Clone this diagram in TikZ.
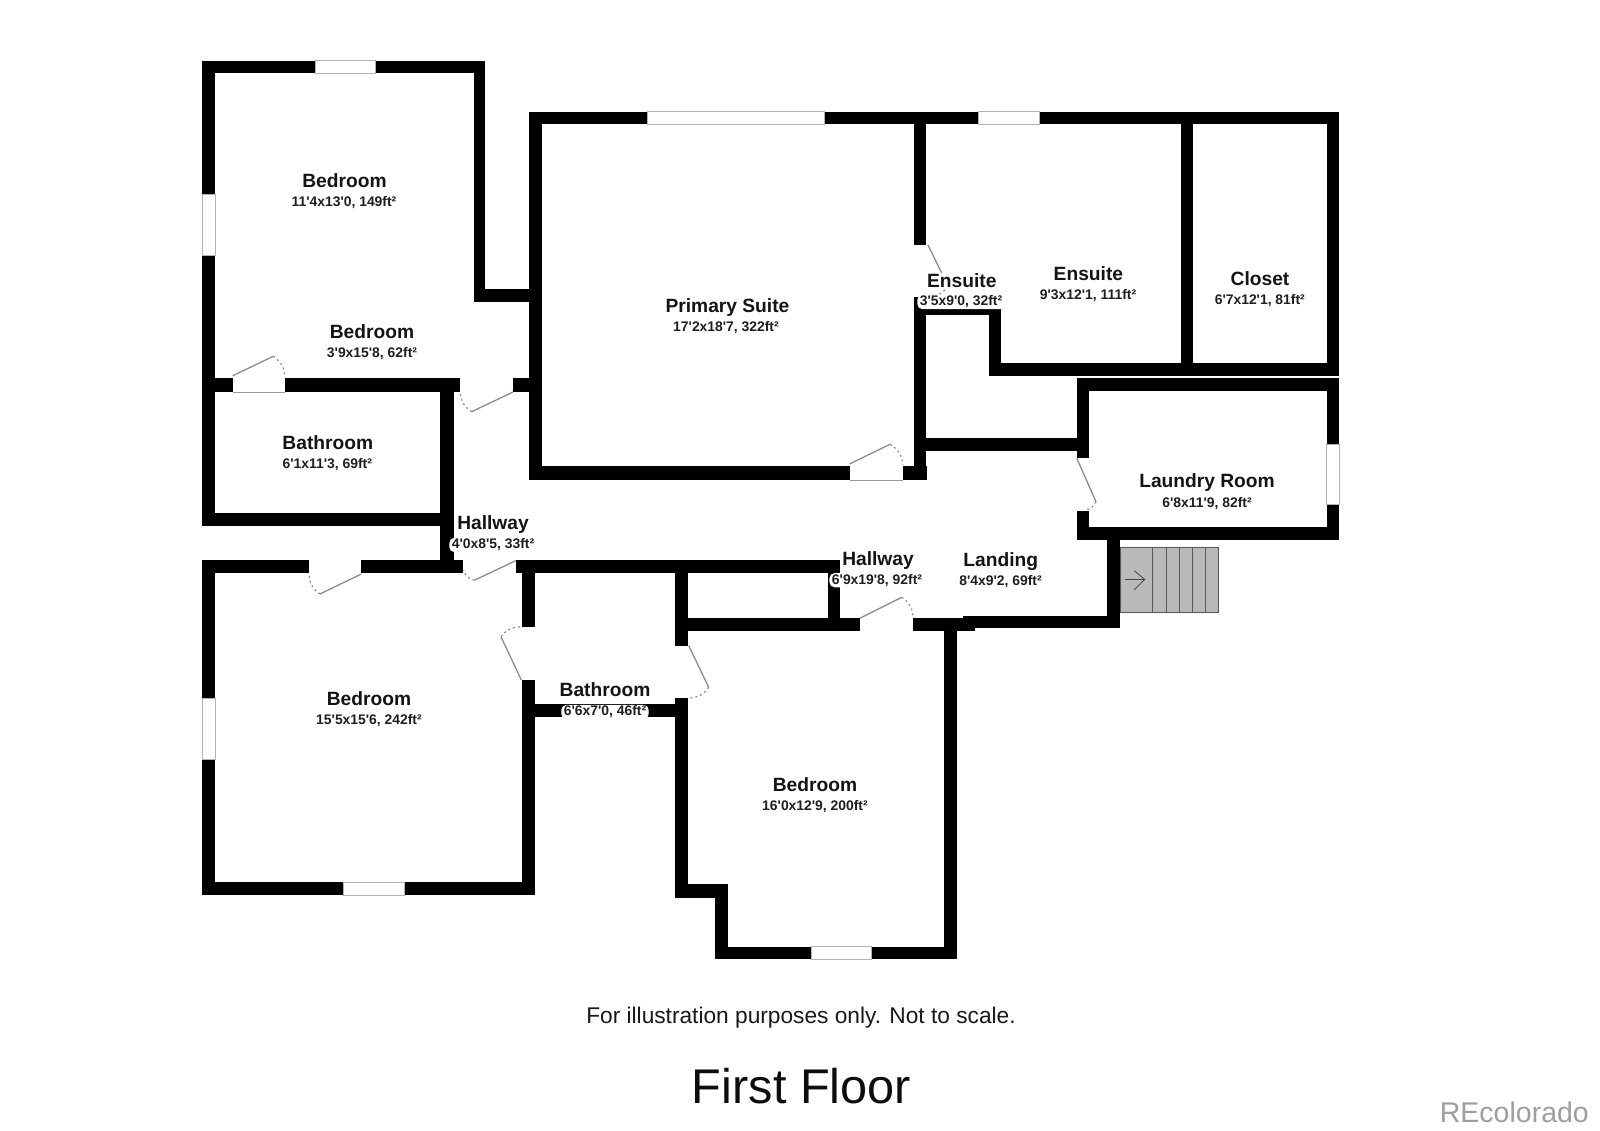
\documentclass[tikz,border=0pt]{standalone}
\usepackage{fontspec}
\setmainfont{Liberation Sans}[Ligatures=TeXOff]
\tikzset{
  wallfill/.style={fill=black},
  windowbox/.style={fill=white,draw=black!30,line width=0.8pt},
  sill/.style={draw=black!40,line width=0.8pt},
  doorleaf/.style={draw=black!45,line width=1.3pt},
  doorarc/.style={draw=black!45,line width=1.2pt,dash pattern=on 2pt off 3pt},
  roomname/.style={font=\fontsize{19.2}{22}\selectfont\bfseries,fill=white,inner xsep=1pt,inner ysep=0pt,text=black!92,anchor=center},
  roominfo/.style={font=\fontsize{13.9}{16}\selectfont\bfseries,fill=white,rounded corners=5pt,inner xsep=2.5pt,inner ysep=1pt,text=black!88,anchor=center},
  stairbox/.style={fill=black!27,draw=black!65,line width=0.8pt},
}
\newcommand{\wl}[4]{\fill[wallfill] (#1,#2) rectangle (#3,#4);}
\newcommand{\wn}[4]{\draw[windowbox] (#1,#2) rectangle (#3,#4);}
\begin{document}
\begin{tikzpicture}[x=1pt,y=-1pt]
\useasboundingbox (0,0) rectangle (1600,1131);
\fill[white] (0,0) rectangle (1600,1131);
% upper-left bedroom and bathroom
\wl{202}{60.7}{485.3}{73.3}
\wl{202}{60.7}{215.3}{526}
\wl{473.7}{60.7}{485.3}{302.3}
\wl{473.7}{289.3}{529.3}{302.3}
\wl{202}{377.7}{232.7}{392}
\wl{284.7}{377.7}{460.3}{392}
\wl{513}{377.7}{529.3}{392}
\wl{440.3}{377.7}{453.7}{573.3}
\wl{202}{513.3}{453.7}{526}
% primary suite
\wl{529.3}{111.7}{1339.3}{124.5}
\wl{529.3}{111.7}{541.7}{480}
\wl{529.3}{466}{850}{480}
\wl{902.5}{466}{927}{480}
\wl{914}{111.7}{926.4}{245}
\wl{914}{297}{926.4}{480}
% ensuite, closet
\wl{914}{302}{1001}{315}
\wl{988.6}{302}{1001}{376.3}
\wl{988.6}{363.3}{1339.3}{376.3}
\wl{1180.7}{111.7}{1193.2}{376}
\wl{1326.8}{111.7}{1339.3}{376.3}
% laundry
\wl{1076.8}{377.7}{1339.3}{390.7}
\wl{1076.8}{377.7}{1089}{458.3}
\wl{926}{437.7}{1077}{450.7}
\wl{1326.8}{377.7}{1339.3}{540}
\wl{1076.8}{510.7}{1089.3}{540}
\wl{1076.8}{526.7}{1339.3}{540}
% landing and stair wall
\wl{1107.3}{540}{1120}{628.3}
\wl{962.7}{615.7}{1120}{628.3}
\wl{913}{618.3}{975.3}{631}
\wl{687}{618.3}{860.3}{631}
\wl{828.3}{560}{840}{620}
% hallway wall
\wl{516}{560}{840}{573.3}
\wl{522}{560}{535}{626.7}
\wl{675}{560}{687.7}{645.7}
% lower-left bedroom
\wl{202}{560}{309}{573.3}
\wl{361.3}{560}{463.3}{573.3}
\wl{202}{560}{215.3}{895.3}
\wl{522.3}{680}{535.3}{895.3}
\wl{202}{882.3}{535.3}{895.3}
% lower bathroom
\wl{535}{704}{675}{717.3}
% lower-right bedroom
\wl{675}{698.3}{687.7}{898.3}
\wl{675}{884.3}{728}{898.3}
\wl{714.7}{884.3}{728}{959.3}
\wl{714.7}{946.7}{957.3}{959.3}
\wl{944.3}{618.3}{957.3}{959.3}
% windows
\wn{315.7}{60.7}{375.7}{73.3}
\wn{202}{194.3}{215.3}{255}
\wn{647}{111.7}{824.6}{124.5}
\wn{978.6}{111.7}{1039.6}{124.5}
\wn{1326.8}{444.3}{1339.3}{504}
\wn{202}{698.7}{215.3}{759.3}
\wn{343.7}{882.3}{404.3}{895.3}
\wn{811.7}{946.7}{871.7}{959.3}
% door sills
\draw[sill] (232.7,392) -- (284.7,392);
\draw[sill] (850,480) -- (902.5,480);
% doors
\draw[doorleaf] (232.7,375.7) -- (273.3,356.3);
\draw[doorarc] (273.3,356.3) to[bend left=28] (284.7,377);
\draw[doorleaf] (513,392) -- (471.7,411.7);
\draw[doorarc] (471.7,411.7) to[bend left=28] (460.3,392);
\draw[doorleaf] (849.5,464) -- (890,444.3);
\draw[doorarc] (890,444.3) to[bend left=28] (902.9,465);
\draw[doorleaf] (928,245) -- (948,286);
\draw[doorarc] (948,286) to[bend left=28] (927,297);
\draw[doorleaf] (1076.8,458.3) -- (1096,501.7);
\draw[doorarc] (1096,501.7) to[bend left=28] (1085,510);
\draw[doorleaf] (361.3,574) -- (320,594);
\draw[doorarc] (320,594) to[bend left=28] (309,573);
\draw[doorleaf] (515.7,560.7) -- (474.3,580.3);
\draw[doorarc] (474.3,580.3) to[bend left=28] (463.3,570);
\draw[doorleaf] (521.3,680) -- (501,636.7);
\draw[doorarc] (501,636.7) to[bend left=28] (522,627);
\draw[doorleaf] (688.7,645.7) -- (708.7,687.3);
\draw[doorarc] (708.7,687.3) to[bend left=28] (688,698);
\draw[doorleaf] (860.3,618) -- (901.7,597.3);
\draw[doorarc] (901.7,597.3) to[bend left=28] (913,618);
% stairs
\draw[stairbox] (1120,547) rectangle (1218.3,612.7);
\foreach \sx in {1152.7,1166,1179,1192.3,1205}
  \draw[draw=black!65,line width=0.8pt] (\sx,547) -- (\sx,612.7);
\draw[draw=black!75,line width=0.8pt] (1125,579.5) -- (1144.7,579.5);
\draw[draw=black!75,line width=0.8pt] (1134.3,570.7) -- (1144.7,579.5) -- (1134.3,589.7);
% labels
\node[roomname] (n1) at (344.5,180.7) {Bedroom};
\node[roominfo] (i1) at (344,203) {11'4x13'0, 149ft²};
\node[roomname] (n2) at (372,332) {Bedroom};
\node[roominfo] (i2) at (372,354) {3'9x15'8, 62ft²};
\node[roomname] (n3) at (327.8,442.7) {Bathroom};
\node[roominfo] (i3) at (327.3,465) {6'1x11'3, 69ft²};
\node[roomname] (n4) at (727.5,308) {Primary Suite};
\node[roominfo] (i4) at (726,327.5) {17'2x18'7, 322ft²};
\node[roomname] (n5) at (961.8,280.5) {Ensuite};
\node[roominfo] (i5) at (961,302) {3'5x9'0, 32ft²};
\node[roomname] (n6) at (1088.4,273.3) {Ensuite};
\node[roominfo] (i6) at (1088,295.5) {9'3x12'1, 111ft²};
\node[roomname] (n7) at (1260,279) {Closet};
\node[roominfo] (i7) at (1259.8,300.5) {6'7x12'1, 81ft²};
\node[roomname] (n8) at (1207,483) {Laundry Room};
\node[roominfo] (i8) at (1207,503.5) {6'8x11'9, 82ft²};
\node[roomname] (n9) at (493,525) {Hallway};
\node[roominfo] (i9) at (493,545) {4'0x8'5, 33ft²};
\node[roomname] (n10) at (605,690) {Bathroom};
\node[roominfo] (i10) at (605,712) {6'6x7'0, 46ft²};
\node[roomname] (n11) at (369,698.7) {Bedroom};
\node[roominfo] (i11) at (369,720.8) {15'5x15'6, 242ft²};
\node[roomname] (n12) at (878,560.7) {Hallway};
\node[roominfo] (i12) at (877,580.2) {6'9x19'8, 92ft²};
\node[roomname] (n13) at (1000.8,562) {Landing};
\node[roominfo] (i13) at (1000.5,581.2) {8'4x9'2, 69ft²};
\node[roomname] (n14) at (815,785) {Bedroom};
\node[roominfo] (i14) at (815,806.5) {16'0x12'9, 200ft²};
\node[font=\fontsize{22.7}{26}\selectfont,text=black!90] (note) at (801,1018) {For illustration purposes only. Not to scale.};
\node[font=\fontsize{48.7}{56}\selectfont,text=black!95] (title) at (801.5,1085.7) {First Floor};
\node[font=\fontsize{28.5}{32}\selectfont,text=black!38,anchor=east,inner sep=0pt] (brand) at (1589,1112) {REcolorado};
\end{tikzpicture}
\end{document}
